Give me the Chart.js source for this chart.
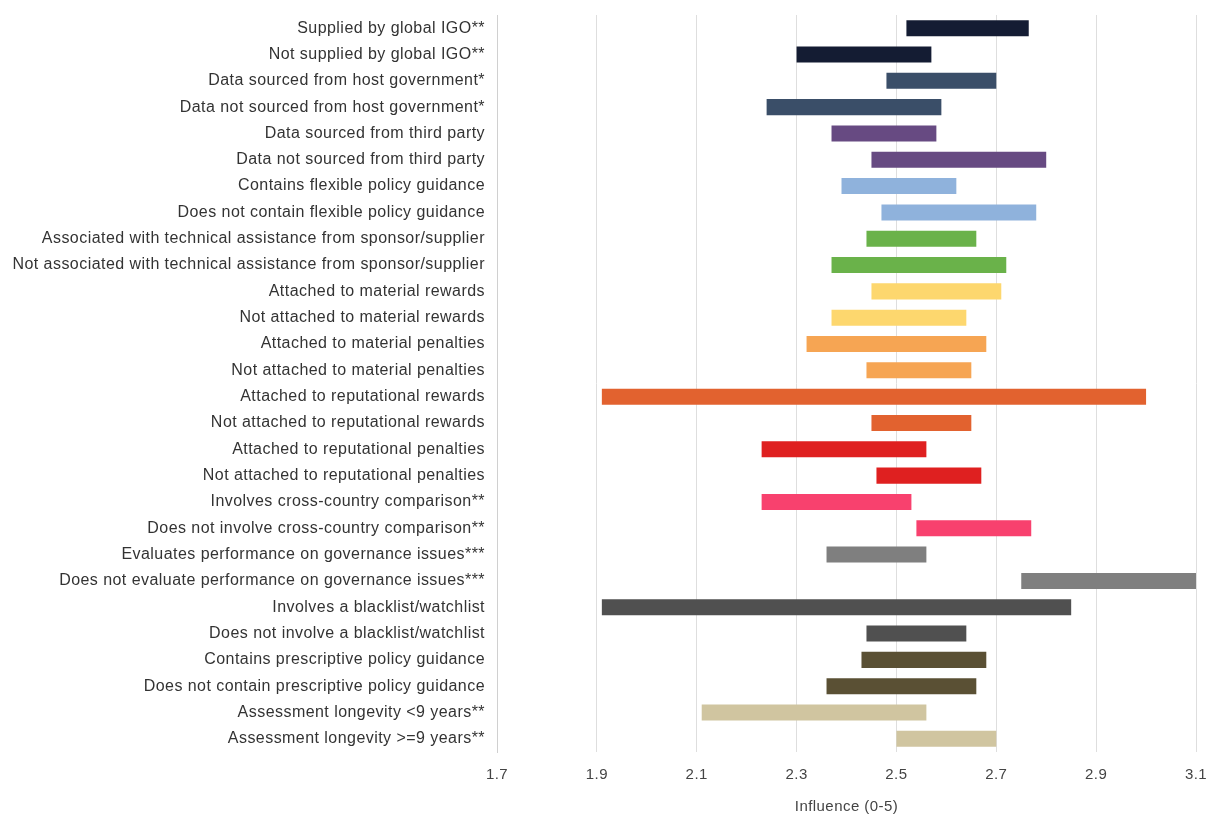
<!DOCTYPE html>
<html>
<head>
<meta charset="utf-8">
<script src="https://cdn.jsdelivr.net/npm/chart.js@4.4.1/dist/chart.umd.min.js"></script>
<style>
html,body{margin:0;padding:0;background:#fff;}
#wrap{width:1206px;height:817px;position:relative;}
</style>
</head>
<body>
<div id="wrap"><canvas id="myChart"></canvas></div>
<script>
'use strict';
// categories, top to bottom
const labels=[
'Supplied by global IGO**',
'Not supplied by global IGO**',
'Data sourced from host government*',
'Data not sourced from host government*',
'Data sourced from third party',
'Data not sourced from third party',
'Contains flexible policy guidance',
'Does not contain flexible policy guidance',
'Associated with technical assistance from sponsor/supplier',
'Not associated with technical assistance from sponsor/supplier',
'Attached to material rewards',
'Not attached to material rewards',
'Attached to material penalties',
'Not attached to material penalties',
'Attached to reputational rewards',
'Not attached to reputational rewards',
'Attached to reputational penalties',
'Not attached to reputational penalties',
'Involves cross-country comparison**',
'Does not involve cross-country comparison**',
'Evaluates performance on governance issues***',
'Does not evaluate performance on governance issues***',
'Involves a blacklist/watchlist',
'Does not involve a blacklist/watchlist',
'Contains prescriptive policy guidance',
'Does not contain prescriptive policy guidance',
'Assessment longevity <9 years**',
'Assessment longevity >=9 years**'
];

// low and high ends of each range
const lowValues=[2.52,2.30,2.48,2.24,2.37,2.45,2.39,2.47,2.44,2.37,
2.45,2.37,2.32,2.44,1.91,2.45,2.23,2.46,2.23,2.54,
2.36,2.75,1.91,2.44,2.43,2.36,2.11,2.50];
const highValues=[2.765,2.57,2.70,2.59,2.58,2.80,2.62,2.78,2.66,2.72,
2.71,2.64,2.68,2.65,3.00,2.65,2.56,2.67,2.53,2.77,
2.56,3.10,2.85,2.64,2.68,2.66,2.56,2.70];

const pairColors=['#141c33','#3a4e68','#674a82','#8fb2dc','#6ab24a','#fdd76e','#f6a553',
'#e2622f','#df2020','#f8416e','#7f7f7f','#505050','#5a5034','#d0c5a0'];

const xTicks=[1.7,1.9,2.1,2.3,2.5,2.7,2.9,3.1];

let ranges=[];
let colors=[];
for(let i=0;i<labels.length;i++){
    ranges.push([lowValues[i],highValues[i]]);
    colors.push(pairColors[Math.floor(i/2)]);
}

Chart.defaults.font.family="'Liberation Sans', Arial, Helvetica, sans-serif";

// the source text is set a little wider than plain Arial
const spacing={
    id:'spacing',
    beforeDraw:function(chart){chart.ctx.letterSpacing='0.45px';}
};

const ctx=document.getElementById('myChart').getContext('2d');
const myChart=new Chart(ctx,{
    type:'bar',
    data:{
        labels:labels,
        datasets:[{
            data:ranges,
            backgroundColor:colors,
            borderWidth:0,
            barPercentage:0.61,
            categoryPercentage:1
        }]
    },
    plugins:[spacing],
    options:{
        indexAxis:'y',
        responsive:true,
        maintainAspectRatio:false,
        animation:false,
        layout:{padding:{top:15,right:10,left:0,bottom:0}},
        plugins:{legend:{display:false},tooltip:{enabled:false}},
        scales:{
            x:{
                min:1.7,
                max:3.1,
                afterBuildTicks:function(scale){
                    scale.ticks=xTicks.map(function(v){return {value:v};});
                },
                afterFit:function(scale){
                    scale.height=65;
                    scale.paddingLeft=0;
                    scale.paddingRight=0;
                },
                grid:{color:'#dedede',drawTicks:true,tickLength:14,tickColor:'rgba(0,0,0,0)'},
                border:{display:false},
                ticks:{
                    color:'#444',
                    font:{size:15},
                    padding:0,
                    callback:function(v){return v.toFixed(1);}
                },
                title:{display:true,text:'Influence (0-5)',color:'#444',font:{size:15},padding:{top:0,bottom:1}}
            },
            y:{
                afterFit:function(scale){
                    scale.width=497;
                    scale.paddingTop=0;
                    scale.paddingBottom=0;
                },
                grid:{display:false,drawTicks:false},
                border:{display:true,color:'#d0d0d0'},
                ticks:{color:'#333',font:{size:16},padding:12}
            }
        }
    }
});
</script>
</body>
</html>
